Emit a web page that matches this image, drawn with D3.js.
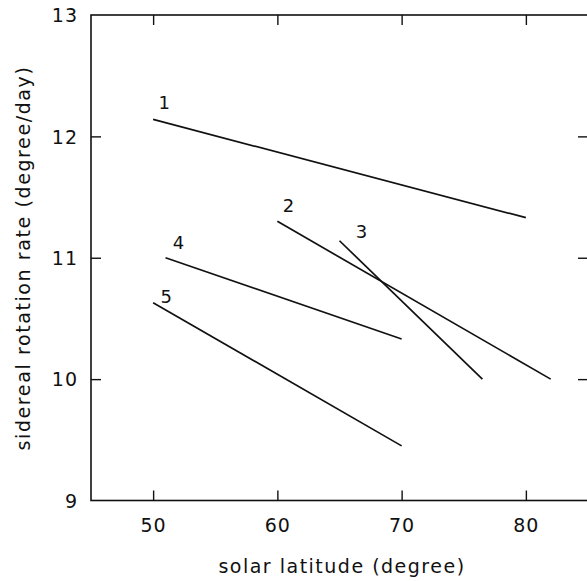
<!DOCTYPE html>
<html>
<head>
<meta charset="utf-8">
<script src="https://cdn.jsdelivr.net/npm/d3@7/dist/d3.min.js"></script>
<style>
  html, body { margin: 0; padding: 0; background: #fff; }
  svg text { font-family: "DejaVu Sans", sans-serif; fill: #111; }
</style>
</head>
<body>
<svg id="chart" width="587" height="581"></svg>
<script>
// ---- data ----
const lineIds = ["1", "2", "3", "4", "5"];
const startLat = [50, 60, 65, 51, 50];
const startRate = [12.14, 11.3, 11.14, 11.0, 10.63];
const endLat = [80, 82, 76.5, 70, 70];
const endRate = [11.33, 10.0, 10.0, 10.33, 9.45];
const xTicks = [50, 60, 70, 80];
const yTicks = [9, 10, 11, 12, 13];
const xTitle = "solar latitude (degree)";
const yTitle = "sidereal rotation rate (degree/day)";

// ---- layout / style ----
const labelOffsets = [[11, -10], [11, -9], [22, -3], [13, -9], [13, 0]];
const svg = d3.select("#chart");
const x = d3.scaleLinear().domain([45, 85]).range([91, 588]);
const y = d3.scaleLinear().domain([9, 13]).range([500.5, 15]);
const ink = "#111";

// frame
svg.append("rect")
  .attr("x", x(45)).attr("y", y(13))
  .attr("width", x(85) - x(45)).attr("height", y(9) - y(13))
  .attr("fill", "none").attr("stroke", ink).attr("stroke-width", 1.6);

// axes with inward ticks
const tickLen = 10;
const fmt = d3.format("d");
const gBottom = svg.append("g").attr("transform", `translate(0,${y(9)})`)
  .call(d3.axisBottom(x).tickValues(xTicks).tickFormat(fmt).tickSizeInner(-tickLen).tickSizeOuter(0).tickPadding(0));
gBottom.select(".domain").remove();
gBottom.selectAll("line").attr("stroke", ink).attr("stroke-width", 1.4);
gBottom.selectAll("text").attr("y", 31).attr("dy", null)
  .attr("font-size", 19).attr("letter-spacing", 1).attr("fill", ink)
  .attr("font-family", "DejaVu Sans, sans-serif");

const gTop = svg.append("g").attr("transform", `translate(0,${y(13)})`)
  .call(d3.axisTop(x).tickValues(xTicks).tickSizeInner(-tickLen).tickSizeOuter(0).tickFormat(""));
gTop.select(".domain").remove();
gTop.selectAll("line").attr("stroke", ink).attr("stroke-width", 1.4);

const gLeft = svg.append("g").attr("transform", `translate(${x(45)},0)`)
  .call(d3.axisLeft(y).tickValues(yTicks).tickFormat(fmt).tickSizeInner(-tickLen).tickSizeOuter(0).tickPadding(0));
gLeft.select(".domain").remove();
gLeft.selectAll("line").attr("stroke", ink).attr("stroke-width", 1.4)
  .filter(d => d === 9 || d === 13).remove();
gLeft.selectAll("text").attr("x", -13).attr("dy", "0.35em")
  .attr("font-size", 19).attr("letter-spacing", 1).attr("fill", ink)
  .attr("font-family", "DejaVu Sans, sans-serif");

const gRight = svg.append("g").attr("transform", `translate(${x(85)},0)`)
  .call(d3.axisRight(y).tickValues(yTicks).tickSizeInner(-tickLen).tickSizeOuter(0).tickFormat(""));
gRight.select(".domain").remove();
gRight.selectAll("line").attr("stroke", ink).attr("stroke-width", 1.4)
  .filter(d => d === 9 || d === 13).remove();

// data lines
const segs = lineIds.map((id, i) => ({
  id, x1: startLat[i], y1: startRate[i], x2: endLat[i], y2: endRate[i], off: labelOffsets[i]
}));
svg.append("g").selectAll("line").data(segs).join("line")
  .attr("x1", d => x(d.x1)).attr("y1", d => y(d.y1))
  .attr("x2", d => x(d.x2)).attr("y2", d => y(d.y2))
  .attr("stroke", ink).attr("stroke-width", 1.7);

svg.append("g").selectAll("text").data(segs).join("text")
  .attr("x", d => x(d.x1) + d.off[0])
  .attr("y", d => y(d.y1) + d.off[1])
  .attr("text-anchor", "middle")
  .attr("font-size", 18)
  .text(d => d.id);

// titles
svg.append("text").attr("x", 342).attr("y", 573)
  .attr("text-anchor", "middle").attr("font-size", 19).attr("letter-spacing", 1.5).text(xTitle);
svg.append("text").attr("transform", "translate(30,258) rotate(-90)")
  .attr("text-anchor", "middle").attr("font-size", 19).attr("letter-spacing", 1.6).text(yTitle);
</script>
</body>
</html>
